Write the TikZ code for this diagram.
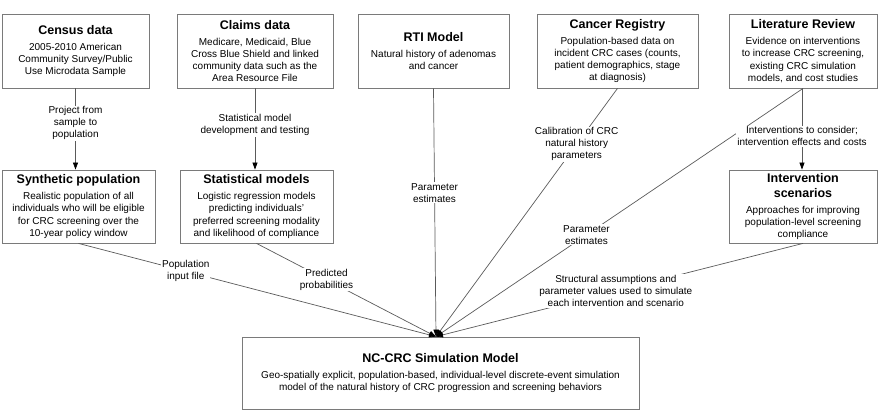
\documentclass[tikz,border=0pt]{standalone}
\usepackage{fontspec}
\setmainfont{Liberation Sans}
\usepackage{xcolor}
\usetikzlibrary{arrows.meta}
\definecolor{lineagris}{HTML}{5A5A5A}
\definecolor{bordegris}{HTML}{7A7A7A}
\newcommand{\BoxTitle}[1]{{\fontsize{12.5}{15}\selectfont\bfseries #1}}

\begin{document}
\begin{tikzpicture}[x=1pt,y=-1pt,
    caja/.style={draw=bordegris,line width=0.8pt,align=center,inner sep=0pt,
      font=\fontsize{10}{12.3}\selectfont},
    rotulo/.style={fill=white,inner sep=1pt,align=center,
      font=\fontsize{10}{12}\selectfont},
    flecha/.style={draw=lineagris,line width=0.7pt,
      -{Triangle[length=7pt,width=5pt,color=black]}}]
  \useasboundingbox (0,0) rectangle (884,410);

  % fuentes de datos
  \node[caja,minimum width=147pt,minimum height=74pt] (census) at (75.5,51)
    {\BoxTitle{Census data}\\[3.7pt]2005-2010 American\\Community Survey/Public\\Use Microdata Sample};
  \node[caja,minimum width=156pt,minimum height=74pt] (claims) at (255,51)
    {\BoxTitle{Claims data}\\[3.7pt]Medicare, Medicaid, Blue\\Cross Blue Shield and linked\\community data such as the\\Area Resource File};
  \node[caja,minimum width=151pt,minimum height=74pt] (rti) at (433.5,51)
    {\BoxTitle{RTI Model}\\[3.7pt]Natural history of adenomas\\and cancer};
  \node[caja,minimum width=161pt,minimum height=74pt] (cancer) at (617.5,51)
    {\BoxTitle{Cancer Registry}\\[3.7pt]Population-based data on\\incident CRC cases (counts,\\patient demographics, stage\\at diagnosis)};
  \node[caja,minimum width=148pt,minimum height=74pt] (lit) at (803,51)
    {\BoxTitle{Literature Review}\\[3.7pt]Evidence on interventions\\to increase CRC screening,\\existing CRC simulation\\models, and cost studies};

  % productos intermedios
  \node[caja,minimum width=153pt,minimum height=73pt] (synth) at (78.5,206.5)
    {\BoxTitle{Synthetic population}\\[3.7pt]Realistic population of all\\individuals who will be eligible\\for CRC screening over the\\10-year policy window};
  \node[caja,minimum width=153pt,minimum height=73pt] (stat) at (256.5,206.5)
    {\BoxTitle{Statistical models}\\[3.7pt]Logistic regression models\\predicting individuals'\\preferred screening modality\\and likelihood of compliance};
  \node[caja,minimum width=148pt,minimum height=73pt] (interv) at (803,206.5)
    {\BoxTitle{Intervention}\\[2.7pt]\BoxTitle{scenarios}\\[3.7pt]Approaches for improving\\population-level screening\\compliance};

  % modelo central
  \node[caja,minimum width=397pt,minimum height=72pt] (nc) at (440.5,373)
    {\BoxTitle{NC-CRC Simulation Model}\\[3.7pt]Geo-spatially explicit, population-based, individual-level discrete-event simulation\\model of the natural history of CRC progression and screening behaviors};
  \coordinate (hub) at ([xshift=-4.5pt]nc.north);

  \foreach \src/\p/\txt in {synth/0.30/{Population\\input file},
      stat/0.39/{Predicted\\probabilities},
      rti/0.42/{Parameter\\estimates},
      cancer/0.225/{Calibration of CRC\\natural history\\parameters},
      lit/0.59/{Parameter\\estimates},
      interv/0.51/{Structural assumptions and\\parameter values used to simulate\\each intervention and scenario}}
    \draw[flecha] (\src.south) -- node[rotulo,pos=\p] (lbl\src) {\txt} (hub);

  \draw[flecha] (census.south) -- node[rotulo,pos=0.43] (lblcensus)
    {Project from\\sample to\\population} (census.south |- synth.north);
  \draw[flecha] (claims.south) -- node[rotulo,pos=0.45] (lblclaims)
    {Statistical model\\development and testing} (claims.south |- stat.north);
  \draw[flecha] ([xshift=-1pt]lit.south) -- node[rotulo,pos=0.59] (lbllit)
    {Interventions to consider;\\intervention effects and costs} ([xshift=-1pt]lit.south |- interv.north);
\end{tikzpicture}
\end{document}
